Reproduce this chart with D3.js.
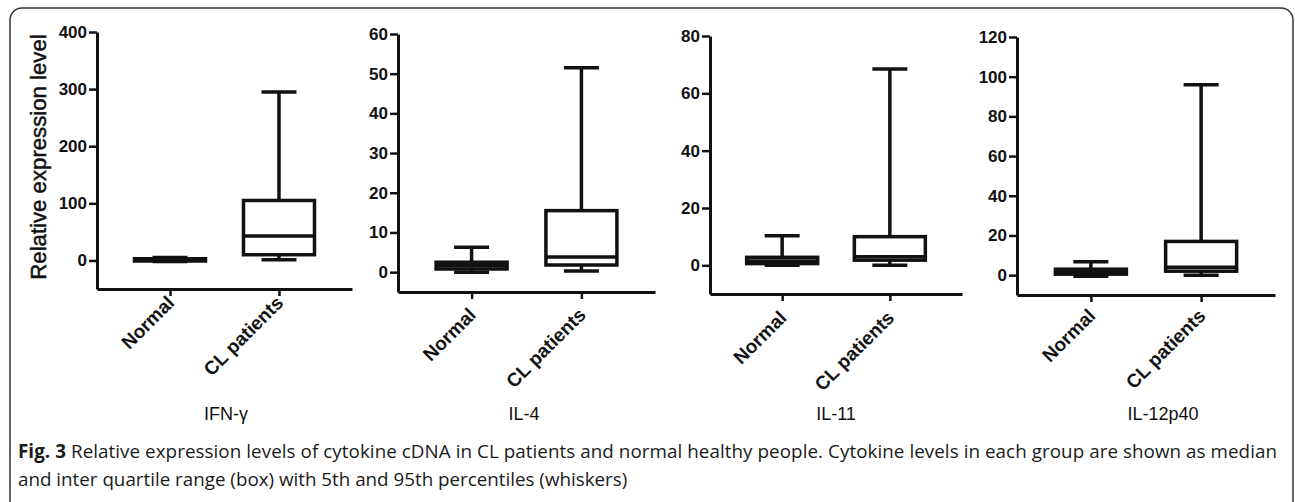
<!DOCTYPE html>
<html>
<head>
<meta charset="utf-8">
<script src="https://cdn.jsdelivr.net/npm/d3@7"></script>
<style>
  body { margin: 0; background: #fff; }
  svg { display: block; }
</style>
</head>
<body>
<div id="main"></div>
<script>
// data
var cytokines = ["IFN-γ", "IL-4", "IL-11", "IL-12p40"];
var groups = ["Normal", "CL patients"];
var yDomains = [[-50, 400], [-5, 60], [-10, 80], [-10, 120]];
var yTicks = [
  [0, 100, 200, 300, 400],
  [0, 10, 20, 30, 40, 50, 60],
  [0, 20, 40, 60, 80],
  [0, 20, 40, 60, 80, 100, 120]
];
// [5th pct, Q1, median, Q3, 95th pct]
var normalStats = [
  [-2, -1, 1, 3, 5],
  [0, 0.8, 1.6, 2.5, 6.3],
  [0, 0.6, 1.5, 2.8, 10.3],
  [-0.5, 0.5, 1.5, 3, 6.8]
];
var clStats = [
  [1, 10, 43, 105, 295],
  [0.3, 1.8, 3.8, 15.5, 51.5],
  [0, 1.8, 3, 10, 68.5],
  [0, 2, 4, 17, 96]
];
var captionBold = "Fig. 3";
var captionLine1 = " Relative expression levels of cytokine cDNA in CL patients and normal healthy people. Cytokine levels in each group are shown as median";
var captionLine2 = "and inter quartile range (box) with 5th and 95th percentiles (whiskers)";

// layout of each panel
var panelX = [97, 398, 710, 1017],
    panelW = [255, 257, 252, 258],
    panelTop = [32, 34, 36, 37],
    panelBottom = [289, 292, 294, 295],
    labelDy = [15, 24, 25, 22],
    titleX = [226, 524, 836, 1163];

var W = 1295, H = 502;
var ink = "#111";

var svg = d3.select("#main")
  .append("svg")
    .attr("width", W)
    .attr("height", H);

// frame
svg.append("rect")
  .attr("x", 10).attr("y", 8)
  .attr("width", 1283).attr("height", 520)
  .attr("rx", 12)
  .attr("fill", "none")
  .attr("stroke", "#333")
  .attr("stroke-width", 1.5);

cytokines.forEach(function(name, i) {
  var g = svg.append("g")
    .attr("transform", "translate(" + panelX[i] + ",0)");

  var y = d3.scaleLinear()
    .domain(yDomains[i])
    .range([panelBottom[i], panelTop[i]]);

  var x = d3.scalePoint()
    .domain(groups)
    .range([0, panelW[i]])
    .padding(0.67);

  // y axis
  var ya = g.append("g")
    .call(d3.axisLeft(y).tickValues(yTicks[i]).tickSize(8).tickSizeOuter(0).tickPadding(2));
  ya.select(".domain").attr("stroke", ink).attr("stroke-width", 3);
  ya.selectAll(".tick line").attr("stroke", ink).attr("stroke-width", 2.5);
  ya.selectAll("text")
    .attr("fill", ink)
    .style("font-family", "Liberation Sans, Arial, sans-serif")
    .style("font-weight", "bold")
    .style("font-size", "17px");

  // x axis
  var xa = g.append("g")
    .attr("transform", "translate(0," + panelBottom[i] + ")")
    .call(d3.axisBottom(x).tickSize(7).tickSizeOuter(0));
  xa.select(".domain").attr("stroke", ink).attr("stroke-width", 3);
  xa.selectAll(".tick line").attr("stroke", ink).attr("stroke-width", 2.5);
  xa.selectAll("text")
    .attr("y", 0)
    .attr("dy", 0)
    .attr("fill", ink)
    .attr("transform", "translate(5," + labelDy[i] + ")rotate(-45)")
    .style("text-anchor", "end")
    .style("font-family", "Liberation Sans, Arial, sans-serif")
    .style("font-weight", "bold")
    .style("font-size", "19px");

  // boxes
  var stats = [normalStats[i], clStats[i]];
  var boxW = 71, capW = 35;
  var boxes = g.selectAll(".box")
    .data(groups.map(function(grp, j) { return {grp: grp, s: stats[j]}; }))
    .enter().append("g")
      .attr("class", "box")
      .attr("transform", function(d) { return "translate(" + x(d.grp) + ",0)"; });

  boxes.append("line")
    .attr("x1", 0).attr("x2", 0)
    .attr("y1", function(d) { return y(d.s[3]); })
    .attr("y2", function(d) { return y(d.s[4]); });
  boxes.append("line")
    .attr("x1", 0).attr("x2", 0)
    .attr("y1", function(d) { return y(d.s[0]); })
    .attr("y2", function(d) { return y(d.s[1]); });
  boxes.append("line")
    .attr("x1", -capW / 2).attr("x2", capW / 2)
    .attr("y1", function(d) { return y(d.s[4]); })
    .attr("y2", function(d) { return y(d.s[4]); });
  boxes.append("line")
    .attr("x1", -capW / 2).attr("x2", capW / 2)
    .attr("y1", function(d) { return y(d.s[0]); })
    .attr("y2", function(d) { return y(d.s[0]); });
  boxes.append("rect")
    .attr("x", -boxW / 2)
    .attr("width", boxW)
    .attr("y", function(d) { return y(d.s[3]); })
    .attr("height", function(d) { return y(d.s[1]) - y(d.s[3]); })
    .attr("fill", "#fff");
  boxes.append("line")
    .attr("x1", -boxW / 2).attr("x2", boxW / 2)
    .attr("y1", function(d) { return y(d.s[2]); })
    .attr("y2", function(d) { return y(d.s[2]); });
  boxes.selectAll("line, rect")
    .attr("stroke", ink)
    .attr("stroke-width", 3.5);

  // panel title
  svg.append("text")
    .attr("x", titleX[i])
    .attr("y", 420)
    .attr("text-anchor", "middle")
    .attr("fill", ink)
    .style("font-family", "Liberation Sans, Arial, sans-serif")
    .style("font-size", "18px")
    .text(name);
});

// y axis label (first panel)
svg.append("text")
  .attr("transform", "translate(46,157)rotate(-90)")
  .attr("text-anchor", "middle")
  .attr("fill", ink)
  .attr("stroke", ink)
  .attr("stroke-width", 0.5)
  .style("font-family", "Liberation Sans, Arial, sans-serif")
  .style("font-size", "22.2px")
  .text("Relative expression level");

// caption
var cap = svg.append("text")
  .attr("x", 18)
  .attr("y", 458)
  .attr("textLength", 1259)
  .attr("lengthAdjust", "spacing")
  .attr("fill", "#1a1a1a")
  .style("font-family", "Open Sans, sans-serif")
  .style("font-size", "18.8px");
cap.append("tspan").style("font-weight", "bold").text(captionBold);
cap.append("tspan").text(captionLine1);

svg.append("text")
  .attr("x", 18)
  .attr("y", 486)
  .attr("fill", "#1a1a1a")
  .style("font-family", "Open Sans, sans-serif")
  .style("font-size", "18.8px")
  .text(captionLine2);
</script>
</body>
</html>
